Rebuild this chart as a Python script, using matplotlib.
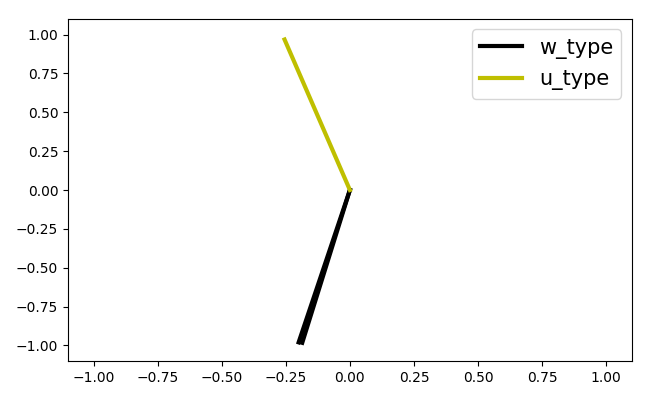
import matplotlib
matplotlib.use("Agg")
import matplotlib.pyplot as plt

# vectors drawn from the origin
w_x = [-0.200, -0.186]
w_y = [-0.98, -0.983]
u_x = [-0.255]
u_y = [0.968]

fig, ax = plt.subplots(figsize=(6.5, 4.0), dpi=100)
fig.subplots_adjust(left=0.1046, right=0.972, top=0.9525, bottom=0.0975)

for i, (x, y) in enumerate(zip(w_x, w_y)):
    ax.plot([0, x], [0, y], color='k', lw=3, label='w_type' if i == 0 else None)
for i, (x, y) in enumerate(zip(u_x, u_y)):
    ax.plot([0, x], [0, y], color='y', lw=3, label='u_type' if i == 0 else None)

ax.set_xlim(-1.1, 1.1)
ax.set_ylim(-1.1, 1.1)
ax.legend(fontsize=15, loc='upper right')
fig.savefig("out.png", dpi=100)
